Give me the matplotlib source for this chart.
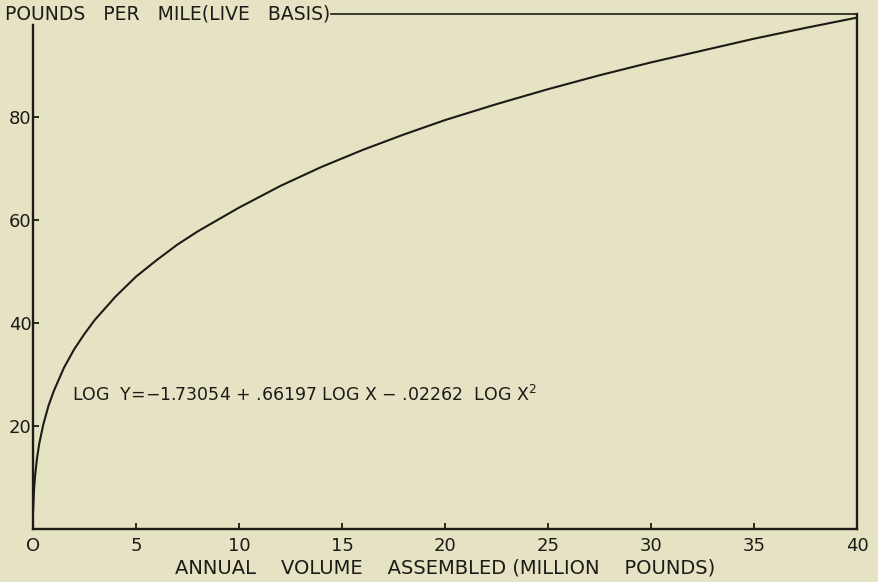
import matplotlib
matplotlib.use("Agg")
import matplotlib.pyplot as plt

# Annual volume assembled (million pounds) and pounds per mile
volume = [0.01, 0.02, 0.05, 0.1, 0.2, 0.3, 0.5, 0.75, 1, 1.5, 2, 2.5, 3, 4, 5, 6, 7, 8,
          10, 12, 14, 16, 18, 20, 22.5, 25, 27.5, 30, 32.5, 35, 37.5, 40]
pounds_per_mile = [3.6, 5.0, 7.6, 10.3, 13.9, 16.5, 20.3, 23.9, 26.7, 31.3, 34.9, 37.9,
                   40.6, 45.1, 49.0, 52.2, 55.2, 57.8, 62.4, 66.6, 70.3, 73.6, 76.6, 79.4,
                   82.5, 85.4, 88.1, 90.6, 92.9, 95.2, 97.3, 99.3]

x_ticks = [0, 5, 10, 15, 20, 25, 30, 35, 40]
x_tick_labels = ["O", "5", "10", "15", "20", "25", "30", "35", "40"]
y_ticks = [20, 40, 60, 80]
y_tick_labels = ["20", "40", "60", "80"]

paper = "#e6e2c4"
ink = "#1c1b16"
fs = 13

W, H = 879, 582
fig = plt.figure(figsize=(W / 100, H / 100), dpi=100, facecolor=paper)
left, right, bottom, top = 33, 857, 529, 14
ax = fig.add_axes([left / W, (H - bottom) / H, (right - left) / W, (bottom - top) / H])
ax.set_facecolor(paper)
ax.set_xlim(0, 40)
ax.set_ylim(0, 100)

ax.plot(volume, pounds_per_mile, color=ink, lw=1.5, solid_capstyle="round")

# frame: left spine stops below the heading, top rule runs from heading to the right edge
for side in ["left", "bottom", "right"]:
    ax.spines[side].set_color(ink)
    ax.spines[side].set_linewidth(1.7)
ax.spines["top"].set_visible(False)
ax.spines["left"].set_bounds(0, 97.8)
ax.plot([0.362, 1.0], [1.0, 1.0], transform=ax.transAxes, color=ink, lw=1.2,
        clip_on=False)

ax.set_xticks(x_ticks)
ax.set_xticklabels(x_tick_labels)
ax.set_yticks(y_ticks)
ax.set_yticklabels(y_tick_labels)
ax.tick_params(axis="x", direction="in", length=4, width=1.3, color=ink, pad=6,
               labelsize=fs, labelcolor=ink)
ax.tick_params(axis="y", direction="in", length=4, width=1.3, color=ink, pad=1,
               labelsize=fs, labelcolor=ink)
ax.xaxis.get_major_ticks()[0].tick1line.set_visible(False)
ax.xaxis.get_major_ticks()[-1].tick1line.set_visible(False)
ax.xaxis.get_majorticklabels()[0].set_x(-0.5)

ax.set_xlabel("ANNUAL    VOLUME    ASSEMBLED (MILLION    POUNDS)", fontsize=14,
              color=ink, labelpad=2)

ax.text(-0.034, 1.0, "POUNDS   PER   MILE(LIVE   BASIS)", transform=ax.transAxes,
        ha="left", va="center", fontsize=13.5, color=ink)

ax.text(1.9, 26.0, "LOG  Y=\u22121.73054 + .66197 LOG X \u2212 .02262  LOG X$^{2}$",
        ha="left", va="center", fontsize=12.5, color=ink)

fig.savefig("out.png", dpi=100, facecolor=paper)
